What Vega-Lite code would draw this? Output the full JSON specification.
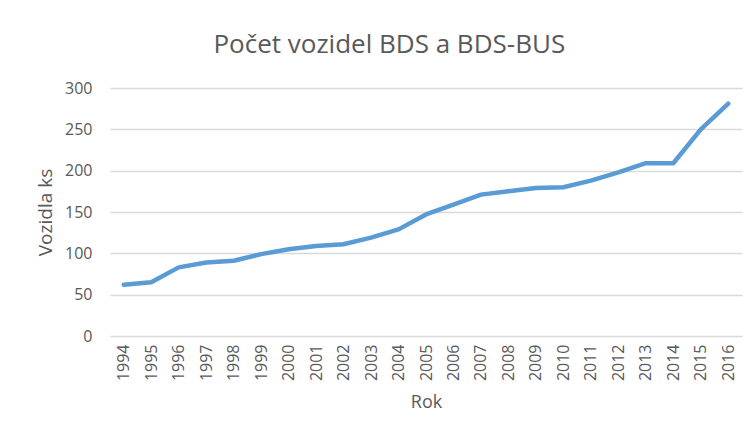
{
  "$schema": "https://vega.github.io/schema/vega-lite/v6.json",
  "width": 632,
  "height": 248,
  "autosize": {"type": "none"},
  "padding": {"left": 110, "top": 88, "right": 14, "bottom": 103},
  "background": "white",
  "config": {
    "view": {"stroke": null},
    "font": "Open Sans"
  },
  "title": {
    "text": "Počet vozidel BDS a BDS-BUS",
    "fontSize": 26,
    "font": "Open Sans",
    "fontWeight": "normal",
    "color": "#595959",
    "anchor": "middle",
    "frame": "bounds",
    "offset": 22
  },
  "data": {
    "values": [
      {"rok": "1994", "vozidla": 62},
      {"rok": "1995", "vozidla": 65},
      {"rok": "1996", "vozidla": 83},
      {"rok": "1997", "vozidla": 89},
      {"rok": "1998", "vozidla": 91},
      {"rok": "1999", "vozidla": 99},
      {"rok": "2000", "vozidla": 105},
      {"rok": "2001", "vozidla": 109},
      {"rok": "2002", "vozidla": 111},
      {"rok": "2003", "vozidla": 119},
      {"rok": "2004", "vozidla": 129},
      {"rok": "2005", "vozidla": 147},
      {"rok": "2006", "vozidla": 159},
      {"rok": "2007", "vozidla": 171},
      {"rok": "2008", "vozidla": 175},
      {"rok": "2009", "vozidla": 179},
      {"rok": "2010", "vozidla": 180},
      {"rok": "2011", "vozidla": 188},
      {"rok": "2012", "vozidla": 198},
      {"rok": "2013", "vozidla": 209},
      {"rok": "2014", "vozidla": 209},
      {"rok": "2015", "vozidla": 250},
      {"rok": "2016", "vozidla": 281}
    ]
  },
  "mark": {"type": "line", "color": "#5B9BD5", "strokeWidth": 4.5, "strokeCap": "round", "strokeJoin": "round"},
  "encoding": {
    "x": {
      "field": "rok",
      "type": "ordinal",
      "scale": {"type": "point", "padding": 0.5},
      "axis": {
        "title": "Rok",
        "titleFont": "Open Sans",
        "titleFontSize": 18,
        "titleFontWeight": "normal",
        "titleColor": "#595959",
        "titlePadding": 13,
        "labelAngle": 270,
        "labelFont": "Open Sans",
        "labelFontSize": 16,
        "labelColor": "#595959",
        "labelPadding": 8,
        "ticks": false,
        "domain": false,
        "grid": false
      }
    },
    "y": {
      "field": "vozidla",
      "type": "quantitative",
      "scale": {"domain": [0, 300], "nice": false},
      "axis": {
        "title": "Vozidla ks",
        "titleFont": "Open Sans",
        "titleFontSize": 19,
        "titleFontWeight": "normal",
        "titleColor": "#595959",
        "titlePadding": 9,
        "values": [0, 50, 100, 150, 200, 250, 300],
        "labelFont": "Open Sans",
        "labelFontSize": 16,
        "labelColor": "#595959",
        "labelPadding": 18,
        "ticks": false,
        "domain": false,
        "grid": true,
        "gridColor": "#D9D9D9",
        "gridWidth": 1.3
      }
    }
  }
}
